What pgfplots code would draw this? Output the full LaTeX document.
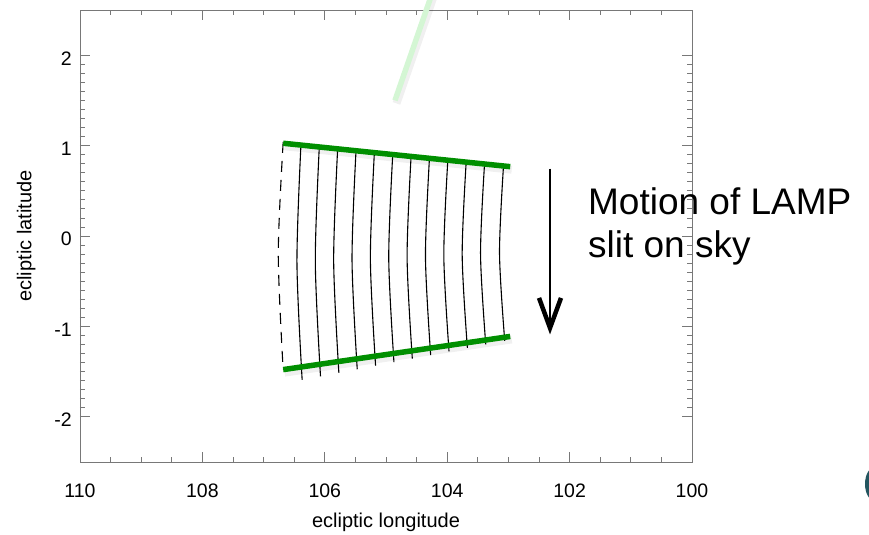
\documentclass[border=0pt]{standalone}
\usepackage{fontspec}
\setmainfont{Liberation Sans}
\usepackage{pgfplots}
\pgfplotsset{compat=1.18}
\usetikzlibrary{arrows.meta}

\definecolor{slitgreen}{RGB}{0,143,0}
\definecolor{palegreen}{RGB}{212,246,212}
\definecolor{axisgray}{RGB}{120,120,120}
\definecolor{blobteal}{RGB}{35,85,95}

\begin{document}
\begin{tikzpicture}
\useasboundingbox (-80bp,-73bp) rectangle (789bp,462bp);
\begin{axis}[
    at={(0,0)}, anchor=south west,
    scale only axis,
    width=612bp, height=452bp,
    x dir=reverse,
    xmin=100, xmax=110,
    ymin=-2.5, ymax=2.5,
    xtick={100,102,104,106,108,110},
    xticklabels={100,102,104,106,108,110},
    ytick={-2,-1,0,1,2},
    yticklabels={-2,-1,0,1,2},
    minor x tick num=3,
    minor y tick num=9,
    tick align=inside,
    major tick length=10bp,
    minor tick length=5bp,
    axis line style={axisgray, line width=0.8bp},
    tick style={axisgray, line width=0.8bp},
    tick label style={font=\fontsize{19.5bp}{23bp}\selectfont},
    xticklabel style={inner sep=0pt, anchor=north, yshift=-22bp},
    yticklabel style={inner sep=0pt, anchor=east, xshift=-8bp, yshift=-3bp},
    xlabel={ecliptic longitude},
    ylabel={ecliptic latitude},
    label style={font=\fontsize{20bp}{24bp}\selectfont},
    xlabel style={at={(axis description cs:0.5,-0.133)}, anchor=center},
    ylabel style={at={(axis description cs:-0.088,0.5)}, anchor=center, rotate=0},
    clip=false,
]
% pale green line (upper)
\addplot[black, opacity=0.06, line width=8bp, xshift=1.5bp, yshift=-3bp] coordinates {(104.853,1.5)(104.17,2.833)};
\addplot[palegreen, line width=5.5bp] coordinates {(104.853,1.5)(104.17,2.833)};

% slit positions
\addplot[black, line width=1.1bp, dash pattern=on 11bp off 8bp, smooth] coordinates {(106.68,1.04)(106.76,-0.20)(106.68,-1.48)};
\addplot[black, line width=1.1bp, smooth] coordinates {(106.39,1.006)(106.455,-0.293)(106.37,-1.592)};
\addplot[black, line width=1.1bp, smooth] coordinates {(106.09,0.985)(106.155,-0.284)(106.07,-1.553)};
\addplot[black, line width=1.1bp, smooth] coordinates {(105.79,0.964)(105.855,-0.275)(105.77,-1.513)};
\addplot[black, line width=1.1bp, smooth] coordinates {(105.49,0.943)(105.555,-0.266)(105.47,-1.474)};
\addplot[black, line width=1.1bp, smooth] coordinates {(105.19,0.922)(105.255,-0.257)(105.17,-1.435)};
\addplot[black, line width=1.1bp, smooth] coordinates {(104.89,0.901)(104.955,-0.247)(104.87,-1.395)};
\addplot[black, line width=1.1bp, smooth] coordinates {(104.59,0.880)(104.655,-0.238)(104.57,-1.356)};
\addplot[black, line width=1.1bp, smooth] coordinates {(104.29,0.859)(104.355,-0.229)(104.27,-1.317)};
\addplot[black, line width=1.1bp, smooth] coordinates {(103.99,0.838)(104.055,-0.220)(103.97,-1.277)};
\addplot[black, line width=1.1bp, smooth] coordinates {(103.69,0.817)(103.755,-0.211)(103.67,-1.238)};
\addplot[black, line width=1.1bp, smooth] coordinates {(103.39,0.796)(103.455,-0.202)(103.37,-1.199)};
\addplot[black, line width=1.1bp, smooth] coordinates {(103.08,0.775)(103.145,-0.192)(103.06,-1.159)};

% green edges of the swept region
\addplot[black, opacity=0.06, line width=8bp, xshift=1.5bp, yshift=-3bp] coordinates {(106.68,1.026)(102.97,0.767)};
\addplot[black, opacity=0.06, line width=8bp, xshift=1.5bp, yshift=-3bp] coordinates {(106.68,-1.478)(102.97,-1.111)};
\addplot[slitgreen, line width=5.5bp] coordinates {(106.68,1.026)(102.97,0.767)};
\addplot[slitgreen, line width=5.5bp] coordinates {(106.68,-1.478)(102.97,-1.111)};

% motion arrow
\addplot[black, line width=2.8bp, -{Straight Barb[length=30bp,width=22bp,line width=4.5bp]}] coordinates {(102.32,0.744)(102.32,-1.089)};

\node[anchor=base west, inner sep=0pt, font=\fontsize{37bp}{44bp}\selectfont] at (axis cs:101.70,0.241) {Motion of LAMP};
\node[anchor=base west, inner sep=0pt, font=\fontsize{37bp}{44bp}\selectfont] at (axis cs:101.70,-0.241) {slit on sky};
\end{axis}
\fill[blobteal] (795bp,-22bp) ellipse (10bp and 17bp);
\end{tikzpicture}
\end{document}
